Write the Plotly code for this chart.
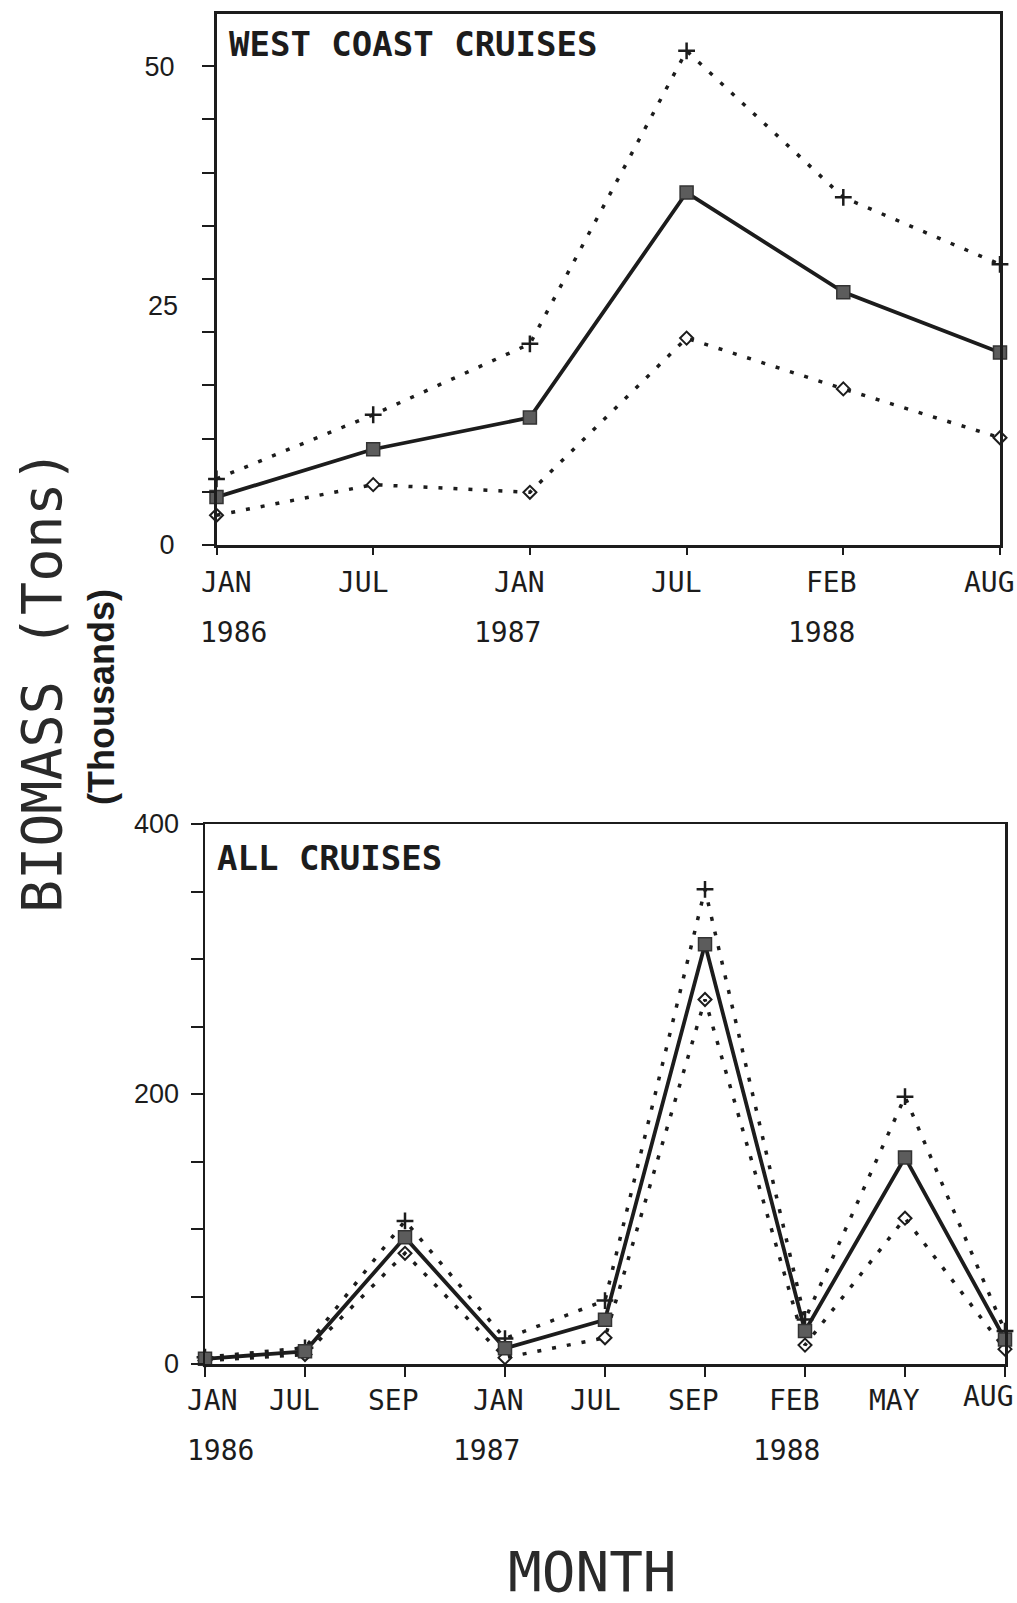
import plotly.graph_objects as go

# ---------------- data ----------------
west_months = ["JAN", "JUL", "JAN", "JUL", "FEB", "AUG"]
west_year_idx = [0, 2, 4]
west_year_txt = ["1986", "1987", "1988"]
west_mean = [5.0, 10.0, 13.3, 36.8, 26.4, 20.1]
west_upper = [6.9, 13.6, 21.0, 51.6, 36.3, 29.3]
west_lower = [3.1, 6.3, 5.5, 21.6, 16.3, 11.2]

all_months = ["JAN", "JUL", "SEP", "JAN", "JUL", "SEP", "FEB", "MAY", "AUG"]
all_year_idx = [0, 3, 6]
all_year_txt = ["1986", "1987", "1988"]
all_mean = [3.8, 9.4, 93.8, 11.6, 32.8, 311.0, 24.4, 153.0, 18.1]
all_upper = [5.0, 12.0, 106.0, 18.8, 47.0, 351.6, 33.0, 198.0, 24.4]
all_lower = [2.5, 7.0, 82.0, 4.7, 19.4, 270.0, 14.0, 108.0, 11.0]

west_ytick_vals = [0, 25, 50]
all_ytick_vals = [0, 200, 400]

# ---------------- styling ----------------
W, H = 1017, 1603
INK = "#1c1c1c"
MONO = "DejaVu Sans Mono"
SANS = "Liberation Sans"


def px_x(p):
    return p / W


def px_y(p):
    return 1 - p / H


fig = go.Figure()

dot = "4px,11px"


def add_series(xa, ya, xs, mean, up, lo):
    fig.add_trace(go.Scatter(x=xs, y=lo, xaxis=xa, yaxis=ya, mode="lines+markers",
                             line=dict(color=INK, width=3.5, dash=dot),
                             marker=dict(symbol="diamond-open", size=10, color=INK,
                                         line=dict(width=2, color=INK)),
                             cliponaxis=False, showlegend=False, hoverinfo="skip"))
    fig.add_trace(go.Scatter(x=xs, y=up, xaxis=xa, yaxis=ya, mode="lines+markers",
                             line=dict(color=INK, width=3.5, dash=dot),
                             marker=dict(symbol="cross-thin-open", size=12, color=INK,
                                         line=dict(width=2.5, color=INK)),
                             cliponaxis=False, showlegend=False, hoverinfo="skip"))
    fig.add_trace(go.Scatter(x=xs, y=mean, xaxis=xa, yaxis=ya, mode="lines+markers",
                             line=dict(color=INK, width=3.8),
                             marker=dict(symbol="square", size=13, color="#5c5c5c",
                                         line=dict(width=1.5, color="#333333")),
                             cliponaxis=False, showlegend=False, hoverinfo="skip"))


add_series("x", "y", list(range(len(west_months))), west_mean, west_upper, west_lower)
add_series("x2", "y2", list(range(len(all_months))), all_mean, all_upper, all_lower)

# panel geometry (pixels)
top_l, top_r, top_t, top_b = 216.5, 1000, 13.9, 545
bot_l, bot_r, bot_t, bot_b = 205, 1005, 824, 1364

axis_common = dict(showline=True, linecolor=INK, linewidth=2.5, mirror=True,
                   showgrid=False, zeroline=False, automargin=False)

top_ymax = (545 - 13.9) / ((545 - 66.1) / 50)
minor_step = 50 / 9
top_tick_pos = [k * minor_step for k in range(10)]

fig.update_layout(
    width=W, height=H,
    margin=dict(l=0, r=0, t=0, b=0, pad=0, autoexpand=False),
    paper_bgcolor="white", plot_bgcolor="white",
    xaxis=dict(domain=[px_x(top_l), px_x(top_r)], range=[0, len(west_months) - 1],
               tickvals=list(range(len(west_months))), ticktext=[""] * len(west_months),
               ticks="outside", ticklen=7, tickwidth=2, tickcolor=INK, anchor="y",
               **axis_common),
    yaxis=dict(domain=[px_y(top_b), px_y(top_t)], range=[0, top_ymax],
               tickvals=top_tick_pos,
               ticktext=[str(west_ytick_vals[0])] + [""] * 8 + [str(west_ytick_vals[2])],
               ticks="outside", ticklen=12, tickwidth=2, tickcolor=INK,
               tickfont=dict(family=SANS, size=27, color=INK),
               ticklabelstandoff=22, anchor="x",
               **axis_common),
    xaxis2=dict(domain=[px_x(bot_l), px_x(bot_r)], range=[0, len(all_months) - 1],
                tickvals=list(range(len(all_months))), ticktext=[""] * len(all_months),
                ticks="outside", ticklen=10, tickwidth=2, tickcolor=INK, anchor="y2",
                **axis_common),
    yaxis2=dict(domain=[px_y(bot_b), px_y(bot_t)], range=[0, 400],
                tickvals=all_ytick_vals, ticktext=[str(v) for v in all_ytick_vals],
                ticks="outside", ticklen=12, tickwidth=2, tickcolor=INK,
                minor=dict(dtick=50, ticks="outside", ticklen=12, tickwidth=2, tickcolor=INK),
                tickfont=dict(family=SANS, size=27, color=INK),
                ticklabelstandoff=6, anchor="x2",
                **axis_common),
)

ann = []
lab_font = dict(family=MONO, size=28, color=INK)

# month labels
top_shift = [10, -10, -10, -10, -12, -11]
for i, m in enumerate(west_months):
    ann.append(dict(x=i, xref="x", y=-0.0715, yref="y domain", text=m, showarrow=False,
                    xanchor="center", yanchor="middle", xshift=top_shift[i],
                    font=lab_font))
for i, t in zip(west_year_idx, west_year_txt):
    ann.append(dict(x=i, xref="x", y=-0.164, yref="y domain", text=t, showarrow=False,
                    xanchor="center", yanchor="middle", xshift=(17 if i == 0 else -22),
                    font=lab_font))
bot_shift = [7, -11, -12, -7, -10, -12, -11, -11, -17]
for i, m in enumerate(all_months):
    ann.append(dict(x=i, xref="x2", y=(-0.061 if i == len(all_months) - 1 else -0.067),
                    yref="y2 domain", text=m, showarrow=False,
                    xanchor="center", yanchor="middle", xshift=bot_shift[i],
                    font=lab_font))
for i, t in zip(all_year_idx, all_year_txt):
    ann.append(dict(x=i, xref="x2", y=-0.16, yref="y2 domain", text=t, showarrow=False,
                    xanchor="center", yanchor="middle", xshift=(15 if i == 0 else -19),
                    font=lab_font))

# middle y tick label of the top panel
ann.append(dict(x=0, xref="x domain", y=west_ytick_vals[1], yref="y", text=str(west_ytick_vals[1]),
                showarrow=False, xanchor="right", yanchor="middle", xshift=-37,
                font=dict(family=SANS, size=27, color=INK)))

# panel titles
ann.append(dict(x=0.013, xref="x domain", y=0.943, yref="y domain", text="WEST COAST CRUISES",
                showarrow=False, xanchor="left", yanchor="middle",
                font=dict(family=MONO, size=34, color=INK, weight="bold")))
ann.append(dict(x=0.013, xref="x2 domain", y=0.937, yref="y2 domain", text="ALL CRUISES",
                showarrow=False, xanchor="left", yanchor="middle",
                font=dict(family=MONO, size=34, color=INK, weight="bold")))

# axis titles
ann.append(dict(x=px_x(42), xref="paper", y=px_y(681), yref="paper", text="BIOMASS (Tons)",
                textangle=-90, showarrow=False, xanchor="center", yanchor="middle",
                font=dict(family=MONO, size=55, color="#2a2a2a")))
ann.append(dict(x=px_x(102), xref="paper", y=px_y(697), yref="paper", text="(Thousands)",
                textangle=-90, showarrow=False, xanchor="center", yanchor="middle",
                font=dict(family=SANS, size=36, color=INK, weight="bold")))
ann.append(dict(x=px_x(592), xref="paper", y=px_y(1571), yref="paper", text="MONTH",
                showarrow=False, xanchor="center", yanchor="middle",
                font=dict(family=MONO, size=56, color="#2a2a2a")))

fig.update_layout(annotations=ann)
fig.write_html("out.html", config={"displayModeBar": False, "staticPlot": True},
               post_script="document.body.style.margin='0px';document.body.style.padding='0px';")
